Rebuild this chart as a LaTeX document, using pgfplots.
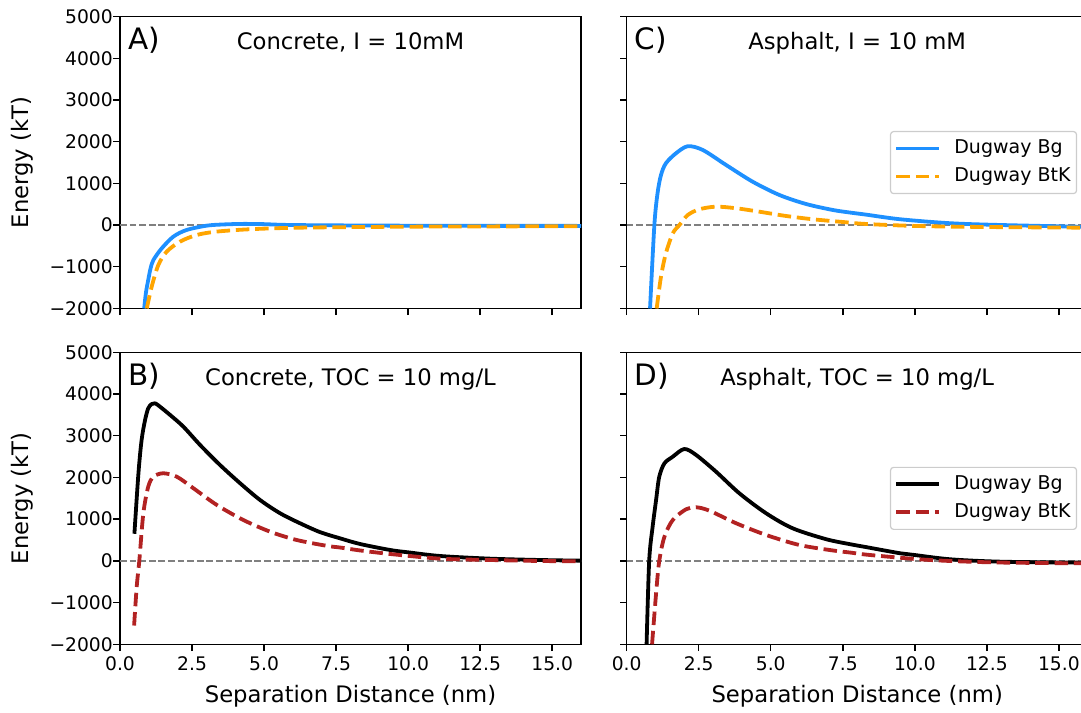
\documentclass[border=0pt]{standalone}
\usepackage{fontspec}
\setmainfont{DejaVu Sans}
\usepackage{pgfplots}
\pgfplotsset{compat=1.18}
\definecolor{cblue}{HTML}{1E90FF}
\definecolor{corange}{HTML}{FFA500}
\definecolor{cred}{HTML}{B22222}
\definecolor{zgray}{HTML}{808080}
\newcommand{\tickfont}{\fontsize{18.7}{22}\selectfont}
\newcommand{\labfont}{\fontsize{22.7}{26}\selectfont}
\newcommand{\letfont}{\fontsize{29.5}{32}\selectfont}
\newcommand{\legfont}{\fontsize{19}{22}\selectfont}
\pgfplotsset{
  panel/.style={
    scale only axis, width=461pt, height=292pt,
    anchor=south west,
    xmin=0, xmax=16, ymin=-2000, ymax=5000,
    axis line style={line width=1.4pt, black},
    tick style={line width=1.4pt, black},
    tick align=outside, major tick length=6.7pt,
    xtick pos=bottom, ytick pos=left,
    ytick={-2000,-1000,0,1000,2000,3000,4000,5000},
    xtick={0,2.5,5,7.5,10,12.5,15},
    ticklabel style={font=\tickfont},
    yticklabel style={xshift=3pt},
    xticklabel style={yshift=-2pt},
    clip=true,
    every axis plot/.append style={line join=round, line cap=butt},
  },
  ylabs/.style={
    yticklabels={−2000,−1000,0,1000,2000,3000,4000,5000},
    ylabel={Energy (kT)},
    ylabel style={at={(axis description cs:-0.1991,0.5)}, anchor=base, font=\labfont},
  },
  nylabs/.style={yticklabels={}},
  xlabs/.style={
    xticklabels={0.0,2.5,5.0,7.5,10.0,12.5,15.0},
    xlabel={Separation Distance (nm)},
    xlabel style={at={(axis description cs:0.5,0)}, anchor=base, yshift=-57.7pt, font=\labfont},
  },
  nxlabs/.style={xticklabels={}},
  leg/.style={
    legend style={at={(rel axis cs:0.977,0.608)}, anchor=north east,
      draw=black!20, line width=1.2pt, rounded corners=3pt, font=\legfont,
      inner xsep=4pt, inner ysep=6pt, row sep=6pt, column sep=11pt,
      nodes={inner sep=2pt, text height=14pt, text depth=4pt, anchor=west}},
    legend cell align=left,
    legend image code/.code={\draw[##1] (0pt,0pt) -- (43pt,0pt);},
  },
  zline/.style={zgray, line width=1.5pt, dash pattern=on 6.7pt off 2.9pt, forget plot},
  solidc/.style={line width=3.8pt, smooth, tension=0.5},
  dashc/.style={line width=3.8pt, smooth, tension=0.5, dash pattern=on 13.5pt off 5.8pt},
}
\begin{document}
\begin{tikzpicture}
\path[use as bounding box] (0pt,0pt) rectangle (1081pt,712pt);
% ---------------- A
\begin{axis}[panel, ylabs, nxlabs, at={(120pt,403.5pt)}]
\addplot[zline] coordinates {(0,0) (16,0)};
\addplot[solidc, cblue] coordinates {
(0.84,-2000) (0.9,-1620) (0.98,-1316) (1.06,-1040) (1.16,-837) (1.45,-557) (1.85,-278) (2.31,-118) (3.01,-14) (3.6,15) (4.28,28) (5.0,22) (5.67,5) (7,-5) (9.72,-14) (12,-18) (16,-20)};
\addplot[dashc, corange] coordinates {
(0.93,-2000) (1.1,-1477) (1.33,-957) (1.62,-638) (2.08,-398) (2.66,-238) (3.34,-158) (4.51,-100) (6.25,-62) (9.72,-40) (13,-32) (16,-28)};
\node[anchor=base west, inner sep=0, font=\letfont] at (rel axis cs:0,0.8853) [xshift=8pt] {A)};
\node[anchor=base, inner sep=0, font=\labfont] at (rel axis cs:0.5,0.8853) {Concrete, I = 10mM};
\end{axis}
% ---------------- B
\begin{axis}[panel, ylabs, xlabs, at={(120pt,67.7pt)}]
\addplot[zline] coordinates {(0,0) (16,0)};
\addplot[solidc, black] coordinates {
(0.5,650) (0.64,2100) (0.75,2898) (0.87,3377) (0.98,3658) (1.1,3760) (1.22,3778) (1.4,3690) (1.74,3497) (2.2,3217) (2.78,2778) (3.47,2299) (4.17,1860) (4.86,1460) (5.56,1140) (6.25,901) (6.94,690) (7.64,540) (8.33,405) (9.375,261) (10,205) (11.11,117) (12.85,53) (14.58,21) (16,5)};
\addplot[dashc, cred] coordinates {
(0.49,-1550) (0.58,-618) (0.67,0) (0.81,1140) (0.98,1779) (1.16,2018) (1.5,2100) (1.97,2018) (2.55,1740) (3.36,1340) (4.28,980) (5.21,700) (6.13,501) (7.18,360) (7.64,320) (8.33,250) (9.375,165) (11.11,53) (12.85,21) (14.58,-3) (16,-10)};
\node[anchor=base west, inner sep=0, font=\letfont] at (rel axis cs:0,0.8853) [xshift=8pt] {B)};
\node[anchor=base, inner sep=0, font=\labfont] at (rel axis cs:0.5,0.8853) {Concrete, TOC = 10 mg/L};
\end{axis}
% ---------------- C
\begin{axis}[panel, nylabs, nxlabs, leg, at={(626.7pt,403.5pt)}]
\addplot[zline] coordinates {(0,0) (16,0)};
\addplot[solidc, cblue] coordinates {
(0.81,-2000) (0.96,0) (1.07,762) (1.19,1201) (1.36,1481) (1.71,1721) (2.12,1890) (2.64,1800) (3.45,1440) (4.37,1040) (5.3,721) (6.22,506) (7.15,362) (7.75,300) (8.31,250) (9.49,139) (11.23,44) (12.96,2) (15.74,-40) (16,-42)};
\addlegendentry{Dugway Bg}
\addplot[dashc, corange] coordinates {
(1.04,-2000) (1.19,-1236) (1.36,-677) (1.6,-197) (1.83,0) (2.12,242) (2.52,378) (3.1,441) (3.8,403) (4.6,321) (5.53,218) (6.46,139) (7.5,74) (8.31,26) (10.07,-22) (12.38,-46) (15.74,-62) (16,-62)};
\addlegendentry{Dugway BtK}
\node[anchor=base west, inner sep=0, font=\letfont] at (rel axis cs:0,0.8853) [xshift=8pt] {C)};
\node[anchor=base, inner sep=0, font=\labfont] at (rel axis cs:0.5,0.8853) {Asphalt, I = 10 mM};
\end{axis}
% ---------------- D
\begin{axis}[panel, nylabs, xlabs, leg, at={(626.7pt,67.7pt)}]
\addplot[zline] coordinates {(0,0) (16,0)};
\addplot[solidc, black] coordinates {
(0.69,-2000) (0.78,0) (0.9,820) (1.02,1460) (1.13,2018) (1.31,2339) (1.6,2498) (2.0,2682) (2.41,2538) (3.1,2138) (3.91,1620) (4.84,1140) (5.76,781) (6.92,520) (7.75,400) (8.31,330) (9.49,182) (10,140) (11.23,38) (12.96,-19) (15.74,-43) (16,-45)};
\addlegendentry{Dugway Bg}
\addplot[dashc, cred] coordinates {
(0.88,-2000) (1.02,-777) (1.13,0) (1.31,580) (1.6,980) (2.06,1237) (2.41,1285) (2.87,1203) (3.8,901) (4.84,621) (5.99,381) (7.15,250) (7.75,200) (8.31,150) (9.49,75) (10.2,35) (11.23,-3) (12.96,-40) (15.74,-58) (16,-58)};
\addlegendentry{Dugway BtK}
\node[anchor=base west, inner sep=0, font=\letfont] at (rel axis cs:0,0.8853) [xshift=8pt] {D)};
\node[anchor=base, inner sep=0, font=\labfont] at (rel axis cs:0.5,0.8853) {Asphalt, TOC = 10 mg/L};
\end{axis}
\end{tikzpicture}
\end{document}
